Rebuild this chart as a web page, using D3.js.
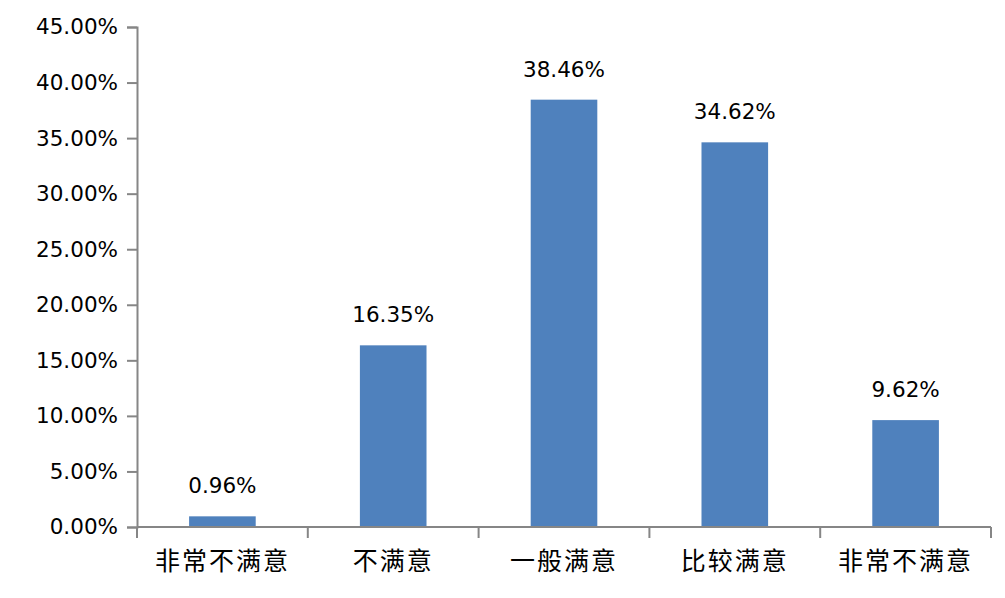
<!DOCTYPE html>
<html>
<head>
<meta charset="utf-8">
<script src="https://cdn.jsdelivr.net/npm/d3@7"></script>
<style>
  body { margin: 0; background: #fff; }
  svg { display: block; }
</style>
</head>
<body>
<svg id="chart"></svg>
<script>
// data
const categories = ['非常不满意', '不满意', '一般满意', '比较满意', '非常不满意'];
const values = [0.96, 16.35, 38.46, 34.62, 9.62];
const yTicks = [0, 5, 10, 15, 20, 25, 30, 35, 40, 45];

const width = 1005, height = 598;
const margin = { top: 27, right: 14, bottom: 71, left: 137 };
const axisColor = '#868686';
const barColor = '#4F81BD';
const numFont = '"DejaVu Sans", Verdana, sans-serif';

const svg = d3.select('#chart')
    .attr('width', width)
    .attr('height', height);

// category names repeat, so the band scale works on indices
const x = d3.scaleBand()
    .domain(d3.range(categories.length))
    .range([margin.left, width - margin.right])
    .padding(0);

const y = d3.scaleLinear()
    .domain([0, 45])
    .range([height - margin.bottom, margin.top]);

const barW = x.bandwidth() * 0.39;

// y axis
const yAxis = svg.append('g')
    .attr('transform', `translate(${margin.left},0)`)
    .call(d3.axisLeft(y).tickValues(yTicks).tickSize(10).tickPadding(9)
        .tickFormat(d => d.toFixed(2) + '%'));
yAxis.select('.domain').attr('stroke', axisColor).attr('stroke-width', 2);
yAxis.selectAll('.tick line').attr('stroke', axisColor).attr('stroke-width', 2);
yAxis.selectAll('.tick text')
    .attr('fill', '#000')
    .attr('font-family', numFont)
    .attr('font-size', 21.5);

// bars
svg.append('g')
    .selectAll('rect')
    .data(values)
    .join('rect')
    .attr('x', (d, i) => x(i) + x.bandwidth() / 2 - barW / 2)
    .attr('width', barW)
    .attr('y', d => y(d))
    .attr('height', d => y(0) - y(d))
    .attr('fill', barColor);

// x axis, ticks on the category boundaries
const xAxis = svg.append('g')
    .attr('transform', `translate(0,${y(0)})`);
xAxis.append('line')
    .attr('x1', margin.left).attr('x2', width - margin.right)
    .attr('stroke', axisColor).attr('stroke-width', 2);
const bounds = d3.range(categories.length + 1).map(i => margin.left + i * x.step());
xAxis.selectAll('.xtick')
    .data(bounds)
    .join('line')
    .attr('class', 'xtick')
    .attr('x1', d => d).attr('x2', d => d)
    .attr('y1', 0).attr('y2', 11)
    .attr('stroke', axisColor).attr('stroke-width', 2);
xAxis.selectAll('.xlabel')
    .data(categories)
    .join('text')
    .attr('class', 'xlabel')
    .attr('x', (d, i) => x(i) + x.bandwidth() / 2)
    .attr('y', 43)
    .attr('text-anchor', 'middle')
    .attr('font-family', '"Noto Sans CJK SC", sans-serif')
    .attr('font-size', 25)
    .attr('letter-spacing', 2)
    .attr('fill', '#000')
    .text(d => d);

// value labels
svg.append('g')
    .selectAll('text')
    .data(values)
    .join('text')
    .attr('x', (d, i) => x(i) + x.bandwidth() / 2)
    .attr('y', d => y(d) - 23)
    .attr('text-anchor', 'middle')
    .attr('font-family', numFont)
    .attr('font-size', 21.5)
    .attr('fill', '#000')
    .text(d => d.toFixed(2) + '%');
</script>
</body>
</html>
